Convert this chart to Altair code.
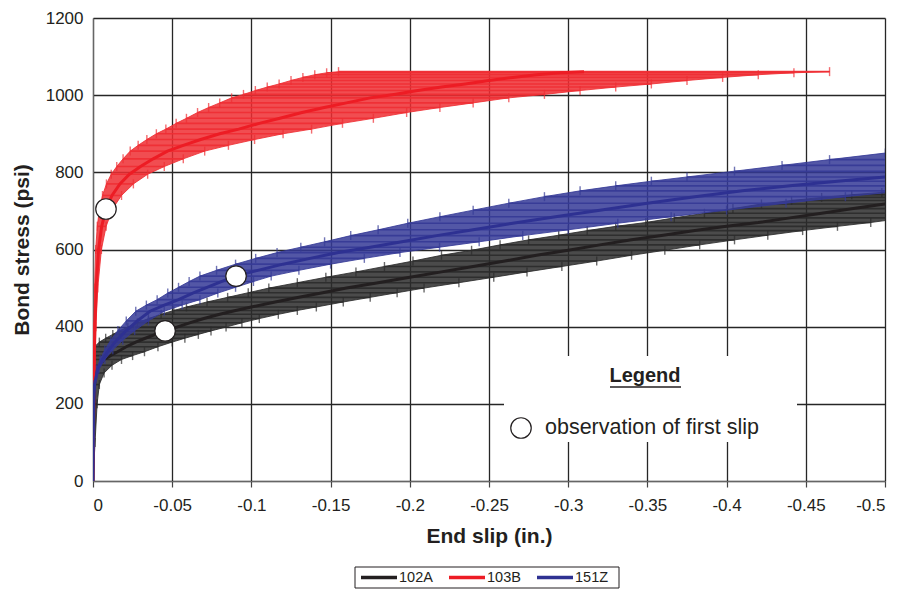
import altair as alt
import pandas as pd

SERIES = ["102A", "103B", "151Z"]
COLORS = ["#231f20", "#ed1c24", "#2e3192"]
BAND_COLORS = ["#2b2b2b", "#ee2e33", "#353a96"]

# 102A (black): end slip (in.), bond stress (psi), horizontal error (in.)
BLACK_SLIP = [0, -0.0003, -0.0006, -0.001, -0.002, -0.004, -0.007, -0.011, -0.0155, -0.021,
              -0.027, -0.033, -0.0395, -0.0455, -0.053, -0.061, -0.07, -0.08, -0.09, -0.1,
              -0.115, -0.13, -0.145, -0.16, -0.18, -0.2, -0.22, -0.24, -0.26, -0.28,
              -0.3, -0.32, -0.34, -0.36, -0.38, -0.4, -0.42, -0.44, -0.46, -0.48,
              -0.5, -0.52, -0.54, -0.56, -0.58]
BLACK_STRESS = [0, 100, 200, 250, 280, 300, 315, 325, 335, 348,
                360, 370, 380, 389, 399, 410, 421, 432, 442, 451,
                464, 476, 488, 500, 514, 528, 542, 556, 570, 585,
                598, 612, 625, 637, 649, 660, 670, 682, 694, 706,
                718, 727, 735, 742, 748]
BLACK_ERR = [0, 0.001, 0.002, 0.003, 0.005, 0.008, 0.011, 0.014, 0.017, 0.02,
             0.023, 0.025, 0.027, 0.029, 0.031, 0.033, 0.035, 0.037, 0.039, 0.041,
             0.043, 0.045, 0.047, 0.049, 0.051, 0.053, 0.054, 0.056, 0.058, 0.06,
             0.061, 0.063, 0.065, 0.066, 0.068, 0.07, 0.071, 0.073, 0.074, 0.076,
             0.078, 0.079, 0.08, 0.081, 0.082]

# 103B (red)
RED_SLIP = [0, -0.0002, -0.0005, -0.0008, -0.0012, -0.002, -0.0035, -0.0055, -0.0082, -0.012,
            -0.017, -0.023, -0.03, -0.038, -0.047, -0.057, -0.068, -0.08, -0.092, -0.105,
            -0.118, -0.132, -0.146, -0.16, -0.175, -0.19, -0.205, -0.22, -0.235, -0.25,
            -0.265, -0.28, -0.295, -0.31]
RED_STRESS = [0, 100, 200, 300, 400, 500, 600, 660, 705, 740,
              770, 795, 815, 835, 855, 870, 885, 900, 912, 927,
              940, 955, 968, 980, 993, 1002, 1012, 1021, 1029, 1038,
              1046, 1053, 1058, 1061]
RED_ERR = [0, 0.0001, 0.0003, 0.0004, 0.0006, 0.001, 0.0018, 0.0028, 0.0041, 0.006,
           0.0085, 0.0115, 0.015, 0.019, 0.0235, 0.0285, 0.034, 0.04, 0.046, 0.0525,
           0.059, 0.066, 0.073, 0.08, 0.0875, 0.095, 0.1025, 0.11, 0.1175, 0.125,
           0.1325, 0.14, 0.1475, 0.155]

# 151Z (blue)
BLUE_SLIP = [0, -0.0002, -0.0004, -0.001, -0.003, -0.006, -0.01, -0.015, -0.021, -0.028,
             -0.036, -0.045, -0.054, -0.063, -0.072, -0.081, -0.09, -0.104, -0.12, -0.137,
             -0.155, -0.175, -0.195, -0.217, -0.24, -0.265, -0.292, -0.32, -0.35, -0.38,
             -0.41, -0.44, -0.47, -0.5, -0.54, -0.58, -0.62, -0.667]
BLUE_STRESS = [0, 100, 200, 250, 290, 315, 340, 365, 390, 415,
               440, 456, 470, 487, 502, 517, 531, 546, 562, 577,
               592, 606, 620, 636, 651, 668, 685, 702, 720, 737,
               752, 765, 777, 788, 803, 818, 833, 850]
BLUE_ERR = [0, 0.0001, 0.0001, 0.0003, 0.0008, 0.0015, 0.0025, 0.0038, 0.0053, 0.007,
            0.009, 0.0113, 0.0135, 0.0158, 0.018, 0.0203, 0.0225, 0.026, 0.03, 0.0343,
            0.0388, 0.0438, 0.0488, 0.0543, 0.06, 0.0663, 0.073, 0.08, 0.0875, 0.095,
            0.1025, 0.11, 0.1175, 0.125, 0.135, 0.145, 0.155, 0.1668]

# observation of first slip
FIRST_SLIP_X = [-0.0455, -0.0082, -0.0903]
FIRST_SLIP_Y = [389, 705, 531]

X_TICKS = [0, -0.05, -0.1, -0.15, -0.2, -0.25, -0.3, -0.35, -0.4, -0.45, -0.5]
Y_TICKS = [0, 200, 400, 600, 800, 1000, 1200]

FONT = "Liberation Sans"
INK = "#231f20"

xscale = alt.Scale(domain=[-0.5, 0], reverse=True, nice=False, zero=False)
yscale = alt.Scale(domain=[0, 1200], nice=False)
xaxis = alt.Axis(title="End slip (in.)", values=X_TICKS,
                 labelExpr="datum.value == 0 ? '0' : '-' + format(-datum.value, '.2~f')",
                 tickSize=6, labelPadding=10, titlePadding=12)
yaxis = alt.Axis(title="Bond stress (psi)", values=Y_TICKS, format="d", ticks=False,
                 labelPadding=10, titlePadding=13)


def series_layers(color, band_color, slip, stress, err):
    df = pd.DataFrame({"slip": slip, "stress": stress, "err": err})
    df["idx"] = range(len(df))
    df["lo"] = df["slip"] + df["err"]
    df["hi"] = df["slip"] - df["err"]
    # outline of the error band: left ends going up, right ends coming down
    left = pd.DataFrame({"bx": df["lo"], "stress": df["stress"]})
    right = pd.DataFrame({"bx": df["hi"][::-1].values, "stress": df["stress"][::-1].values})
    poly = pd.concat([left, right], ignore_index=True)
    poly["k"] = range(len(poly))

    y = alt.Y("stress:Q", scale=yscale, axis=yaxis)
    band = alt.Chart(poly).mark_line(fill=band_color, stroke=band_color, strokeWidth=1,
                                     fillOpacity=0.85, strokeOpacity=0.85, clip=True).encode(
        y=y, x=alt.X("bx:Q", scale=xscale, axis=xaxis), order="k:Q")
    base = alt.Chart(df)
    rules = base.mark_rule(color=band_color, strokeWidth=1.6, opacity=0.9, clip=True).encode(
        y=y, x=alt.X("lo:Q", scale=xscale, axis=xaxis), x2="hi:Q")
    capl = base.mark_tick(orient="vertical", color=band_color, size=9, thickness=1.4,
                          opacity=0.7, clip=True).encode(
        y=y, x=alt.X("lo:Q", scale=xscale, axis=xaxis))
    capr = base.mark_tick(orient="vertical", color=band_color, size=9, thickness=1.4,
                          opacity=0.7, clip=True).encode(
        y=y, x=alt.X("hi:Q", scale=xscale, axis=xaxis))
    line = base.mark_line(strokeWidth=3, color=color, clip=True).encode(
        y=y, x=alt.X("slip:Q", scale=xscale, axis=xaxis), order="idx:Q")
    return [band, rules, capl, capr, line]


layers = []
layers += series_layers(COLORS[0], BAND_COLORS[0], BLACK_SLIP, BLACK_STRESS, BLACK_ERR)
layers += series_layers(COLORS[1], BAND_COLORS[1], RED_SLIP, RED_STRESS, RED_ERR)
layers += series_layers(COLORS[2], BAND_COLORS[2], BLUE_SLIP, BLUE_STRESS, BLUE_ERR)

pts = pd.DataFrame({"slip": FIRST_SLIP_X, "stress": FIRST_SLIP_Y})
circles = alt.Chart(pts).mark_point(shape="circle", size=420, filled=True, fill="white",
                                    stroke=INK, strokeWidth=1.2, opacity=1).encode(
    x=alt.X("slip:Q", scale=xscale, axis=xaxis),
    y=alt.Y("stress:Q", scale=yscale, axis=yaxis))
layers.append(circles)

one = alt.Chart(pd.DataFrame({"a": [0]}))

# in-plot legend box
box = one.mark_rect(fill="white").encode(
    x=alt.value(411), x2=alt.value(704), y=alt.value(338), y2=alt.value(424))
leg_title = one.mark_text(text="Legend", font=FONT, fontSize=20, fontWeight="bold",
                          align="center", baseline="middle", color=INK).encode(
    x=alt.value(552), y=alt.value(358))
leg_ul = one.mark_rule(color=INK, strokeWidth=1.5).encode(
    x=alt.value(517), x2=alt.value(588), y=alt.value(369))
leg_circle = one.mark_point(shape="circle", size=420, filled=True, fill="white",
                            stroke=INK, strokeWidth=1.2, opacity=1).encode(
    x=alt.value(428), y=alt.value(410))
leg_text = one.mark_text(text="observation of first slip", font=FONT, fontSize=21.5,
                         align="left", baseline="middle", color=INK).encode(
    x=alt.value(452), y=alt.value(410))
layers += [box, leg_title, leg_ul, leg_circle, leg_text]

# series legend below the axis
sleg_box = one.mark_rect(fill="white", stroke=INK, strokeWidth=1).encode(
    x=alt.value(262), x2=alt.value(526), y=alt.value(549), y2=alt.value(570))
layers.append(sleg_box)
for i, (name, col) in enumerate(zip(SERIES, COLORS)):
    x0 = 268 + 88 * i
    layers.append(one.mark_rule(color=col, strokeWidth=3.5).encode(
        x=alt.value(x0), x2=alt.value(x0 + 36), y=alt.value(559.5)))
    layers.append(one.mark_text(text=name, font=FONT, fontSize=14.5, align="left",
                                baseline="middle", color=INK).encode(
        x=alt.value(x0 + 38), y=alt.value(560)))

chart = alt.layer(*layers).properties(
    width=792, height=463,
    padding={"left": 85, "top": 10, "right": 10, "bottom": 108},
    autosize=alt.AutoSizeParams(type="none"),
).configure_view(stroke=None).configure_axis(
    labelFont=FONT, titleFont=FONT, labelFontSize=17, titleFontSize=21,
    titleFontWeight="bold", labelColor=INK, titleColor=INK,
    gridColor="#262626", gridWidth=1.3, gridOpacity=1, domainColor="#666666",
    domainWidth=1.2, tickColor="#444444", tickWidth=1.2,
)

chart.save("out.html", embed_options={"renderer": "svg", "actions": False})
